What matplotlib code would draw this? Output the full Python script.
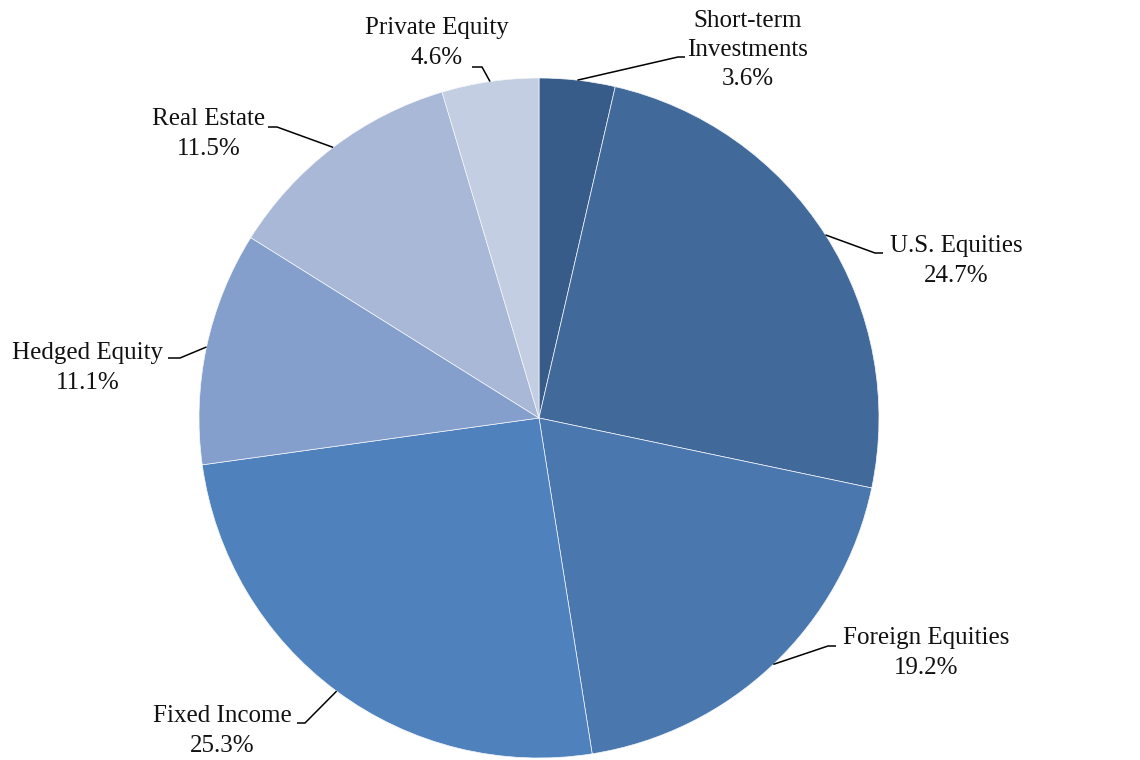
import matplotlib
matplotlib.use("Agg")
import matplotlib.pyplot as plt
import numpy as np

# Asset allocation
categories = ["Short-term\nInvestments", "U.S. Equities", "Foreign Equities",
              "Fixed Income", "Hedged Equity", "Real Estate", "Private Equity"]
shares = [3.6, 24.7, 19.2, 25.3, 11.1, 11.5, 4.6]
colors = ["#375C89", "#416A9B", "#4A77AD", "#4F81BD", "#849FCB", "#A9B8D6", "#C3CEE2"]

# Label layout (pixel space, y down): text centre, leader elbow, stub end
label_centres = [(748, 50), (956, 261), (926, 653), (222, 731), (88, 368), (209, 134), (437, 43)]
elbows = [(678, 57), (875, 253), (828, 646), (305, 723), (180, 358), (277, 127), (482, 67)]
stub_ends = [(685, 57), (883, 253), (836, 646), (297, 723), (168, 358), (268, 127), (472, 67)]

W, H = 1140, 760
fig = plt.figure(figsize=(W / 100, H / 100), dpi=100)
ax = fig.add_axes([0, 0, 1, 1])
ax.axis("off")

centre = (539, 418)
radius = 340
wedges, _ = ax.pie(shares, colors=colors, radius=radius, center=centre,
                   startangle=-90, counterclock=True,
                   wedgeprops=dict(edgecolor="#f4f6fa", linewidth=0.5),
                   frame=False)
ax.set_xlim(0, W)
ax.set_ylim(H, 0)
ax.set_aspect("equal")

font = dict(family="Liberation Serif", size=18, color="#111111")
for w, name, val, tc, el, se in zip(wedges, categories, shares, label_centres, elbows, stub_ends):
    mid = np.deg2rad((w.theta1 + w.theta2) / 2)
    x0 = centre[0] + radius * np.cos(mid)
    y0 = centre[1] + radius * np.sin(mid)
    ax.plot([x0, el[0], se[0]], [y0, el[1], se[1]], color="black", lw=1.1,
            solid_capstyle="butt", solid_joinstyle="miter")
    ax.text(tc[0], tc[1], f"{name}\n{val:.1f}%", ha="center", va="center",
            multialignment="center", linespacing=1.42, **font)

fig.savefig("out.png", dpi=100)
